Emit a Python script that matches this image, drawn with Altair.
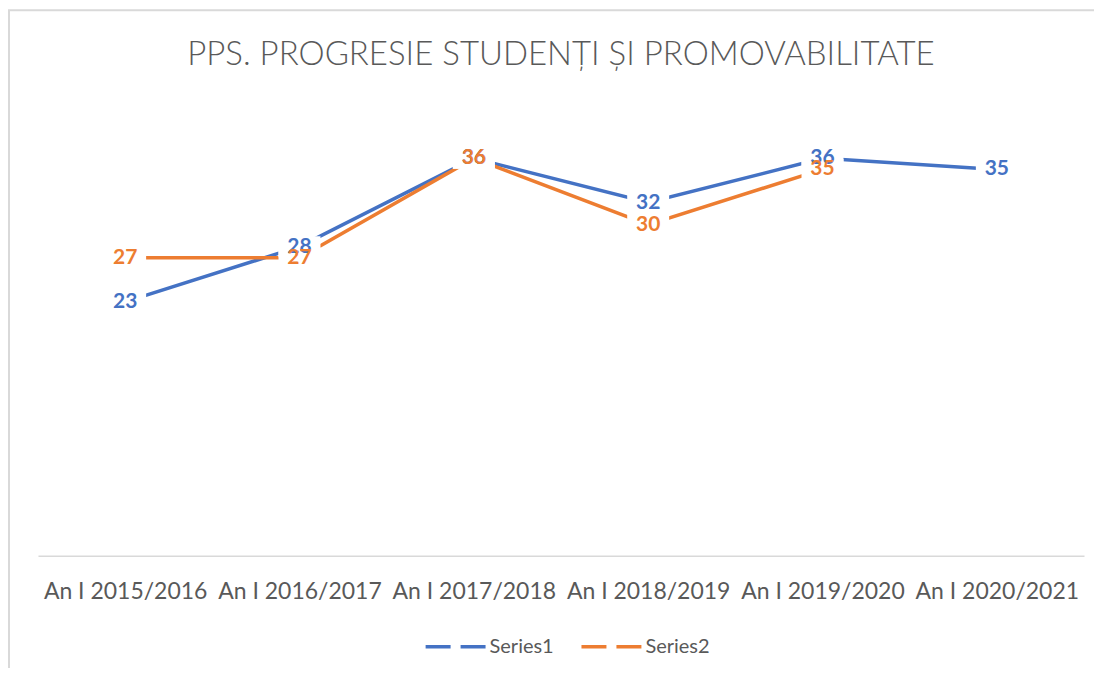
import altair as alt
import pandas as pd

categories = ["An I 2015/2016", "An I 2016/2017", "An I 2017/2018",
              "An I 2018/2019", "An I 2019/2020", "An I 2020/2021"]
series1 = [23, 28, 36, 32, 36, 35]
series2 = [27, 27, 36, 30, 35, None]
series_names = ["Series1", "Series2"]
colors = ["#4472C4", "#ED7D31"]
title_text = "PPS. PROGRESIE STUDENȚI ȘI PROMOVABILITATE"

rows = []
for name, vals in zip(series_names, [series1, series2]):
    for c, v in zip(categories, vals):
        if v is not None:
            rows.append({"cat": c, "series": name, "value": v})
df = pd.DataFrame(rows)

W, H = 1047, 442
FONT = "Lato"

x = alt.X("cat:N", sort=categories,
          scale=alt.Scale(type="point", padding=0.5),
          axis=alt.Axis(title=None, labelAngle=0, labelFont=FONT, labelFontSize=23,
                        labelColor="#595959", domainColor="#D9D9D9", domainWidth=1.5,
                        ticks=False, labelPadding=25, grid=False))
y = alt.Y("value:Q", scale=alt.Scale(domain=[0, 40]), axis=None)
cscale = alt.Scale(domain=series_names, range=colors)

base = alt.Chart(df)
lines = base.mark_line(strokeWidth=3.5).encode(
    x=x, y=y,
    color=alt.Color("series:N", scale=cscale, title=None,
                    legend=alt.Legend(orient="none", legendX=386, legendY=501,
                                      direction="horizontal", symbolType="stroke",
                                      symbolStrokeWidth=3.5, symbolSize=3600,
                                      symbolDash=[25, 10], labelFont=FONT,
                                      labelFontSize=20, labelColor="#595959",
                                      columnPadding=20, labelOffset=2)),
)
boxes = base.mark_point(shape="M-1,-0.5L1,-0.5L1,0.5L-1,0.5Z", filled=True,
                        fill="white", opacity=1, size=1764, strokeOpacity=0).encode(x=x, y=y)
texts = base.mark_text(font=FONT, fontSize=21, fontWeight="bold").encode(
    x=x, y=y, text="value:Q",
    color=alt.Color("series:N", scale=cscale, legend=None),
)

frame_df = pd.DataFrame({"t": [title_text]})
top_border = alt.Chart(frame_df).mark_rule(color="#D9D9D9", strokeWidth=2).encode(
    x=alt.value(-30), x2=alt.value(1070), y=alt.value(-104))
left_border = alt.Chart(frame_df).mark_rule(color="#D9D9D9", strokeWidth=2).encode(
    x=alt.value(-29), y=alt.value(-104), y2=alt.value(570))
title = alt.Chart(frame_df).mark_text(font=FONT, fontSize=33, fontWeight=300,
                                      color="#595959", align="center",
                                      baseline="alphabetic").encode(
    x=alt.value(W / 2), y=alt.value(-49), text="t:N")

chart = alt.layer(top_border, left_border, title, lines, boxes, texts).properties(
    width=W, height=H,
    autosize=alt.AutoSizeParams(type="none"),
    padding={"left": 30, "top": 106, "right": 10, "bottom": 112},
).configure(background="white").configure_view(strokeWidth=0, stroke="transparent")

chart.save("out.html", embed_options={"renderer": "svg", "actions": False})
